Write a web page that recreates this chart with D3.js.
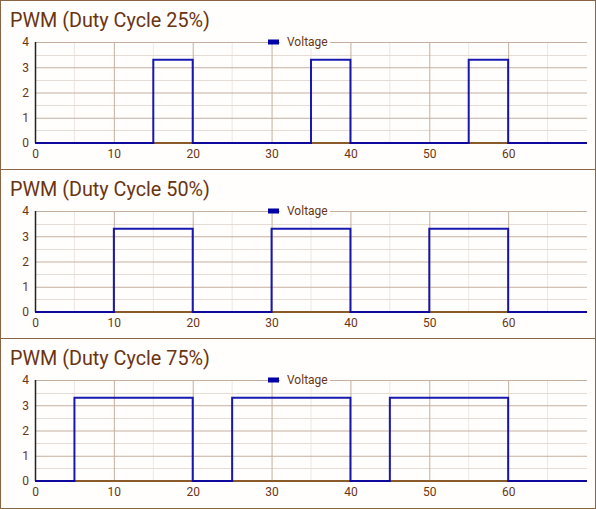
<!DOCTYPE html>
<html>
<head>
<meta charset="utf-8">
<script src="https://cdn.jsdelivr.net/npm/d3@7"></script>
<style>
  body { margin: 0; background: #fff; }
  svg { display: block; font-family: Roboto, sans-serif; }
</style>
</head>
<body>
<script>
const titles = ['PWM (Duty Cycle 25%)', 'PWM (Duty Cycle 50%)', 'PWM (Duty Cycle 75%)'];
const seriesName = 'Voltage';
const timeTicks = [0, 10, 20, 30, 40, 50, 60];
const voltTicks = [0, 1, 2, 3, 4];

const duty25T = [0, 15, 15, 20, 20, 35, 35, 40, 40, 55, 55, 60, 60, 70];
const duty25V = [0, 0, 3.3, 3.3, 0, 0, 3.3, 3.3, 0, 0, 3.3, 3.3, 0, 0];
const duty50T = [0, 10, 10, 20, 20, 30, 30, 40, 40, 50, 50, 60, 60, 70];
const duty50V = [0, 0, 3.3, 3.3, 0, 0, 3.3, 3.3, 0, 0, 3.3, 3.3, 0, 0];
const duty75T = [0, 5, 5, 20, 20, 25, 25, 40, 40, 45, 45, 60, 60, 70];
const duty75V = [0, 0, 3.3, 3.3, 0, 0, 3.3, 3.3, 0, 0, 3.3, 3.3, 0, 0];

const panels = [
  {title: titles[0], t: duty25T, v: duty25V},
  {title: titles[1], t: duty50T, v: duty50V},
  {title: titles[2], t: duty75T, v: duty75V}
];

const W = 596, H = 509, panelH = 169;
const brown = '#6a3412';

const svg = d3.select('body').append('svg')
  .attr('width', W).attr('height', H);

svg.append('rect')
  .attr('x', 0.5).attr('y', 0.5)
  .attr('width', W - 1).attr('height', H - 1)
  .attr('fill', '#fffefd').attr('stroke', '#8a6545');

const x = d3.scaleLinear().domain([0, 70]).range([35, 587]);
const y = d3.scaleLinear().domain([0, 4]).range([143, 42]);

panels.forEach((p, i) => {
  const g = svg.append('g').attr('transform', `translate(0,${i * panelH})`);

  if (i > 0) {
    g.append('line')
      .attr('x1', 0).attr('x2', W)
      .attr('y1', 0.5).attr('y2', 0.5)
      .attr('stroke', '#8a6545');
  }

  g.append('text')
    .attr('x', 10).attr('y', 27)
    .attr('font-size', 19.8)
    .attr('fill', brown)
    .text(p.title);

  // minor grid
  g.selectAll('.vmin').data(d3.range(5, 70, 10)).join('line')
    .attr('x1', d => x(d)).attr('x2', d => x(d))
    .attr('y1', y(4)).attr('y2', y(0))
    .attr('stroke', '#efe6e2');
  g.selectAll('.hmin').data(d3.range(0.5, 4, 1)).join('line')
    .attr('x1', x(0)).attr('x2', x(70))
    .attr('y1', d => Math.round(y(d)) + 0.5).attr('y2', d => Math.round(y(d)) + 0.5)
    .attr('stroke', '#e6dcd6');

  // major grid
  g.append('g')
    .attr('transform', `translate(0,${y(0)})`)
    .call(d3.axisBottom(x).tickValues(timeTicks).tickSize(-(y(0) - y(4))).tickPadding(6))
    .call(a => a.select('.domain').remove())
    .call(a => a.selectAll('.tick line').attr('stroke', '#c5ae9e'))
    .call(a => a.selectAll('.tick text').attr('fill', brown).attr('font-size', 12)
      .attr('font-family', 'Roboto, sans-serif'));

  g.append('g')
    .attr('transform', `translate(${x(0)},0)`)
    .call(d3.axisLeft(y).tickValues(voltTicks).tickFormat(d3.format('d'))
      .tickSize(-(x(70) - x(0))).tickPadding(6))
    .call(a => a.select('.domain').remove())
    .call(a => a.selectAll('.tick line').attr('stroke', '#c5ae9e'))
    .call(a => a.selectAll('.tick text').attr('fill', brown).attr('font-size', 12)
      .attr('font-family', 'Roboto, sans-serif'));

  // axes lines
  g.append('line')
    .attr('x1', x(0)).attr('x2', x(70))
    .attr('y1', y(0)).attr('y2', y(0))
    .attr('stroke', '#8b5a2b').attr('stroke-width', 2);
  g.append('line')
    .attr('x1', x(0) + 0.5).attr('x2', x(0) + 0.5)
    .attr('y1', y(4)).attr('y2', y(0))
    .attr('stroke', '#222').attr('stroke-width', 1.5);

  const data = p.t.map((t, k) => [t, p.v[k]]);
  g.append('path')
    .datum(data)
    .attr('fill', 'none')
    .attr('stroke', '#0000a8')
    .attr('stroke-opacity', 0.9)
    .attr('stroke-width', 2)
    .attr('d', d3.line().x(d => x(d[0])).y(d => y(d[1])));

  // legend
  const lg = g.append('g').attr('transform', `translate(268,${y(4)})`);
  lg.append('rect').attr('x', 12).attr('y', -7).attr('width', 50).attr('height', 13)
    .attr('fill', '#fffefd');
  lg.append('rect').attr('x', 0).attr('y', -2.5).attr('width', 11).attr('height', 5)
    .attr('fill', '#0000a8');
  lg.append('text').attr('x', 19).attr('y', 4)
    .attr('font-size', 12).attr('fill', brown)
    .text(seriesName);
});
</script>
</body>
</html>
